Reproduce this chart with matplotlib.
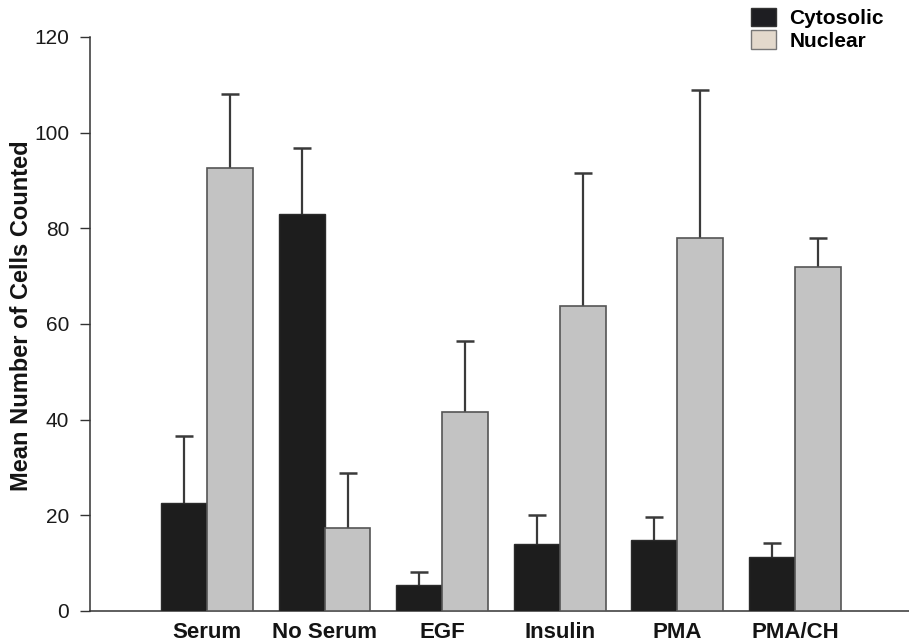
#!/usr/bin/env python3
"""Grouped bar chart: cytosolic vs nuclear cell counts per treatment"""

import numpy as np
import matplotlib.pyplot as plt
from matplotlib.patches import Patch

# Data
treatments = ['Serum', 'No Serum', 'EGF', 'Insulin', 'PMA', 'PMA/CH']
cytosolic = [22.5, 83.0, 5.5, 14.0, 14.8, 11.2]
cytosolic_top = [36.6, 96.7, 8.1, 20.0, 19.6, 14.2]
nuclear = [92.7, 17.3, 41.5, 63.8, 78.0, 72.0]
nuclear_top = [108.0, 28.8, 56.5, 91.5, 109.0, 78.0]
series_names = ['Cytosolic', 'Nuclear']
yticks = [0, 20, 40, 60, 80, 100, 120]

plt.rcParams['font.family'] = ['Liberation Sans', 'DejaVu Sans']

fig = plt.figure(figsize=(9.09, 6.43), dpi=100)
ax = fig.add_axes([0.099, 0.0498, 0.901, 0.8927])

x = np.arange(len(treatments))
width = 0.39


def draw_error(xpos, tops, bottoms):
    # upper-only error bars: stem from bar top plus a single cap
    ax.vlines(xpos, bottoms, tops, color='#3a3a3a', linewidth=1.6, zorder=2)
    ax.plot(xpos, tops, linestyle='none', marker='_', markersize=13,
            markeredgewidth=1.8, color='#3a3a3a', zorder=2)


ax.bar(x - width / 2, cytosolic, width, color='#1d1d1d', edgecolor='#2a2a2a',
       linewidth=1.0, zorder=3)
ax.bar(x + width / 2, nuclear, width, color='#c3c3c3', edgecolor='#555555',
       linewidth=1.2, zorder=3)

draw_error(x - width / 2, cytosolic_top, cytosolic)
draw_error(x + width / 2, nuclear_top, nuclear)

ax.set_xlim(-0.995, 5.97)
ax.set_ylim(0, 120)
ax.set_yticks(yticks)
ax.set_xticks(x)
ax.set_xticklabels(treatments, fontsize=16, fontweight='bold', color='#141414')
ax.tick_params(axis='x', length=0, pad=8)
ax.tick_params(axis='y', length=7, width=1.0, color='#333333', labelsize=15,
               pad=8, labelcolor='#1a1a1a')

for side in ['top', 'right']:
    ax.spines[side].set_visible(False)
for side in ['left', 'bottom']:
    ax.spines[side].set_color('#333333')
    ax.spines[side].set_linewidth(1.1)

ax.set_ylabel('Mean Number of Cells Counted', fontsize=17, fontweight='bold',
              color='#141414')
ax.yaxis.set_label_coords(-0.069, 0.514)

handles = [Patch(facecolor='#1e1e22', edgecolor='#333333'),
           Patch(facecolor='#e3d9cc', edgecolor='#777777')]
fig.legend(handles, series_names, loc='upper left',
           bbox_to_anchor=(0.826, 0.988), frameon=False,
           prop={'weight': 'bold', 'size': 15},
           handlelength=1.2, handleheight=1.0, handletextpad=0.65,
           labelspacing=0.1, borderpad=0, borderaxespad=0)

fig.savefig('out.png', dpi=100)
plt.close(fig)
